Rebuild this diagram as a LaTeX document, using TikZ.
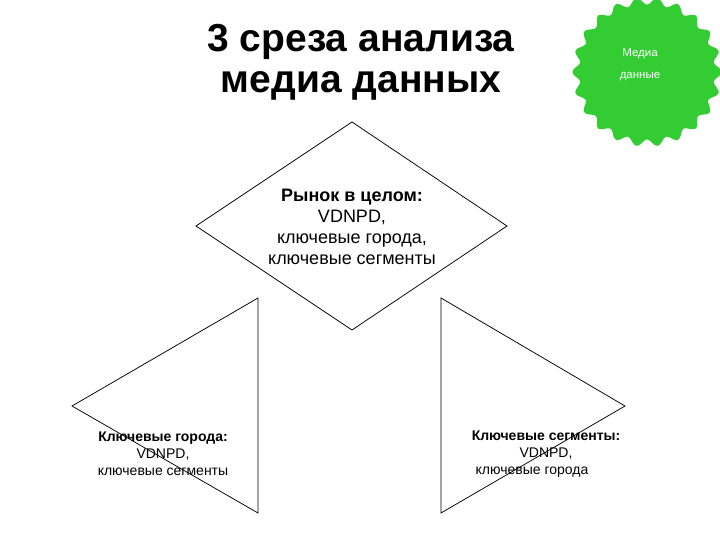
\documentclass[tikz,border=0pt]{standalone}
\usepackage{fontspec}
\setmainfont{Liberation Sans}
\definecolor{gearg}{RGB}{51,204,51}
\tikzset{
  shapeline/.style={draw=black, line width=0.75pt, line join=miter},
  bigtext/.style={align=center, font=\fontsize{18}{21}\selectfont, inner sep=0pt},
  smalltext/.style={align=center, font=\fontsize{14}{17}\selectfont, inner sep=0pt},
  titletext/.style={align=center, font=\fontsize{39}{41.5}\selectfont\bfseries, inner sep=0pt},
  geartext/.style={align=center, text=white, font=\fontsize{11.5}{22}\selectfont, inner sep=0pt}
}
\begin{document}
\begin{tikzpicture}[x=1pt,y=-1pt]
\useasboundingbox (0,0) rectangle (720,540);
\fill[white] (0,0) rectangle (720,540);
% title
\node[titletext, anchor=base] (title) at (361,93) {3 среза анализа\\медиа данных};
% gear
\begin{scope}[shift={(647,72)}]
\fill[gearg] plot[domain=0:360, samples=361, smooth] (\x:{71+3.5*cos(22*\x)}) -- cycle;
\end{scope}
\node[geartext, anchor=base] (gear) at (640,79) {Медиа\\данные};
% diamond
\coordinate (dt) at (352,122);
\coordinate (dr) at (507,226);
\coordinate (db) at (352,330);
\coordinate (dl) at (196,226);
\draw[shapeline] (dt) -- (dr) -- (db) -- (dl) -- cycle;
\node[bigtext] (market) at (352,227) {\textbf{Рынок в целом:}\\VDNPD,\\ключевые города,\\ключевые сегменты};
% left triangle
\coordinate (lt) at (258,298);
\coordinate (ll) at (72,406);
\coordinate (lb) at (258,513);
\draw[shapeline] (lt) -- (ll) -- (lb) -- cycle;
\node[smalltext] (cities) at (163,454) {\textbf{Ключевые города:}\\VDNPD,\\ключевые сегменты};
% right triangle
\coordinate (rt) at (441,298);
\coordinate (rr) at (625,406);
\coordinate (rb) at (441,513);
\draw[shapeline] (rt) -- (rr) -- (rb) -- cycle;
\node[smalltext] (segments) at (546,454) {\textbf{Ключевые сегменты:}\\VDNPD,\hspace*{38pt}\\ключевые города\hspace*{28pt}};
\end{tikzpicture}
\end{document}
